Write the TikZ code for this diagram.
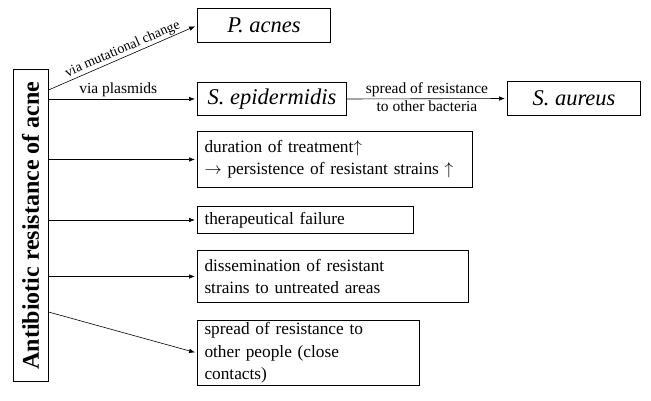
\documentclass[tikz,border=0pt]{standalone}
\usepackage{fontspec}
\setmainfont{Liberation Serif}
\usetikzlibrary{arrows.meta}
\begin{document}
\begin{tikzpicture}[x=1pt,y=-1pt,
  box/.style={draw, line width=1pt, inner sep=0pt, anchor=north west},
  bigit/.style={font=\fontsize{22.5}{26}\selectfont\itshape},
  txt/.style={font=\fontsize{17.3}{22.5}\selectfont, align=left, inner xsep=7pt},
  arr/.style={-{Latex[length=6pt,width=4.5pt]}, line width=0.6pt, shorten >=2pt},
  lbl/.style={font=\fontsize{15.5}{17}\selectfont, inner sep=1.5pt},
  slbl/.style={font=\fontsize{14}{16}\selectfont, inner sep=1pt}]
\useasboundingbox (0,0) rectangle (651,401);
% main box
\node[draw, line width=1pt, rotate=90, minimum width=311pt, minimum height=35pt, inner sep=0pt,
      font=\fontsize{24}{28}\selectfont\bfseries] (ab) at (30.5,225.5) {Antibiotic resistance of acne};
% boxes
\node[box, bigit, minimum width=133pt, minimum height=34pt] (pac) at (197,8) {P. acnes};
\node[box, bigit, minimum width=149pt, minimum height=33pt] (epi) at (197,82) {S. epidermidis};
\node[box, bigit, minimum width=133pt, minimum height=34pt] (aur) at (507,81) {S. aureus};
\node[box, txt, text width=261pt, minimum height=56pt] (dur) at (197,131)
  {duration of treatment$\uparrow$\\$\rightarrow$ persistence of resistant strains $\uparrow$};
\node[box, txt, text width=202pt, minimum height=27pt] (the) at (197,206) {therapeutical failure};
\node[box, txt, text width=257pt, minimum height=52pt] (dis) at (197,250)
  {dissemination of resistant\\strains to untreated areas};
\node[box, txt, text width=208pt, minimum height=65pt] (spr) at (197,320)
  {spread of resistance to\\other people (close\\contacts)};
% connectors
\draw[arr] (ab.south |- 0,90) -- node[slbl, sloped, above, pos=0.52] {via mutational change} (pac.west);
\draw[arr] (ab.south |- epi.west) -- node[lbl, above, pos=0.47] {via plasmids} (epi.west);
\draw[arr] (epi.east) -- node[lbl, above] {spread of resistance} node[lbl, below] {to other bacteria} (aur.west);
\draw[arr] (ab.south |- dur.west) -- (dur.west);
\draw[arr] (ab.south |- the.west) -- (the.west);
\draw[arr] (ab.south |- dis.west) -- (dis.west);
\draw[arr] (ab.south |- 0,312) -- (spr.west);
\end{tikzpicture}
\end{document}
